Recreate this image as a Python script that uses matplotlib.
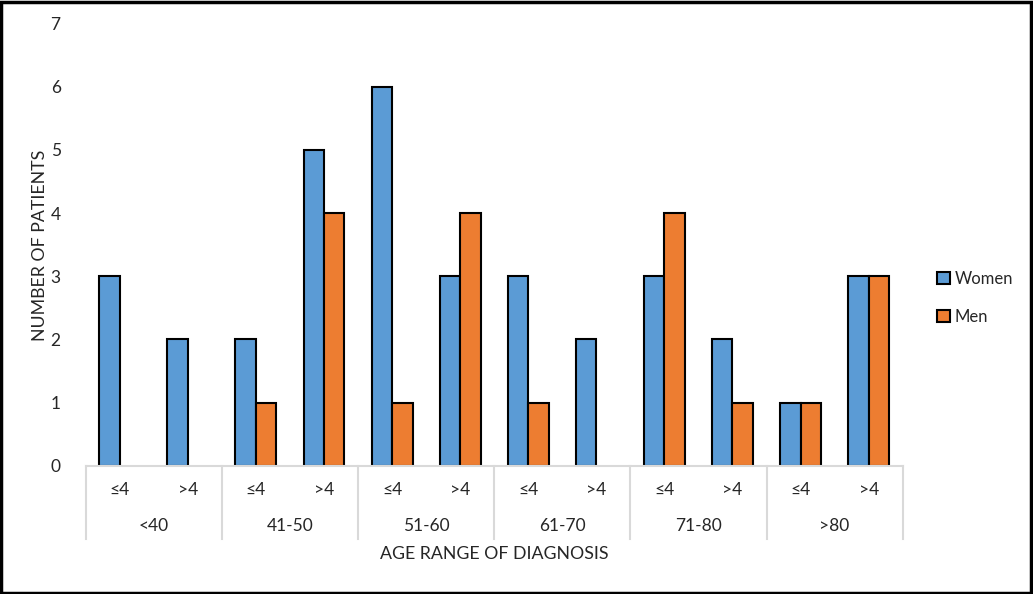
import matplotlib
matplotlib.use("Agg")
import matplotlib.pyplot as plt
from matplotlib.patches import Rectangle, Patch
import numpy as np

plt.rcParams['font.family'] = ['Lato', 'DejaVu Sans']

age_groups = ['<40', '41-50', '51-60', '61-70', '71-80', '>80']
sub_labels = ['≤4', '>4']
women = [3, 2, 2, 5, 6, 3, 3, 2, 3, 2, 1, 3]
men = [0, 0, 1, 4, 1, 4, 1, 0, 4, 1, 1, 3]

women_color = '#5B9BD5'
men_color = '#ED7D31'
text_color = '#262626'
line_color = '#D9D9D9'

fig = plt.figure(figsize=(10.33, 5.94), dpi=100)
ax = fig.add_axes([85.7 / 1033, (594 - 465.7) / 594, (902.7 - 85.7) / 1033, (465.7 - 23.5) / 594])

x = np.arange(len(women))
w = 0.30
bars_w = ax.bar(x - w / 2, women, w, color=women_color, edgecolor='black', linewidth=1.5, label='Women')
bars_m = ax.bar(x + w / 2, men, w, color=men_color, edgecolor='black', linewidth=1.5, label='Men')
# Excel draws nothing for zero-height bars
for b in list(bars_w) + list(bars_m):
    if b.get_height() == 0:
        b.set_linewidth(0)

ax.set_xlim(-0.5, len(women) - 0.5)
ax.set_ylim(0, 7)
ax.set_yticks(range(0, 8))
ax.tick_params(axis='y', length=0, pad=18, labelsize=12.5, labelcolor=text_color)
ax.set_xticks([])
for s in ['top', 'right', 'left']:
    ax.spines[s].set_visible(False)
ax.spines['bottom'].set_color(line_color)
ax.spines['bottom'].set_linewidth(1.5)

# multi-level category axis
trans = ax.get_xaxis_transform()
sep_bottom = -73.3 / 442.2
for k in range(len(age_groups) + 1):
    xs = -0.5 + 2 * k
    ax.plot([xs, xs], [0, sep_bottom], color=line_color, lw=1.5, transform=trans, clip_on=False)
for i in range(len(women)):
    ax.text(i, -24.5 / 442.2, sub_labels[i % 2], transform=trans, ha='center', va='center',
            fontsize=12.5, color=text_color)
for g, name in enumerate(age_groups):
    ax.text(2 * g + 0.5, -60.5 / 442.2, name, transform=trans, ha='center', va='center',
            fontsize=12.5, color=text_color)

fig.text(494 / 1033, 1 - 554 / 594, 'AGE RANGE OF DIAGNOSIS', ha='center', va='center',
         fontsize=12.8, color=text_color)
fig.text(40 / 1033, 1 - 245 / 594, 'NUMBER OF PATIENTS', ha='center', va='center',
         rotation=90, fontsize=12.8, color=text_color)

handles = [Patch(facecolor=women_color, edgecolor='black', linewidth=1.5),
           Patch(facecolor=men_color, edgecolor='black', linewidth=1.5)]
fig.legend(handles, ['Women', 'Men'], loc='center left', bbox_to_anchor=(922 / 1033, 1 - 298 / 594),
           frameon=False, fontsize=12, handlelength=0.75, handleheight=0.75, handletextpad=0.3,
           labelspacing=1.3, labelcolor=text_color)

fig.patches.append(Rectangle((0.001, 0.002), 0.997, 0.995, transform=fig.transFigure,
                             fill=False, edgecolor='black', linewidth=2.5))

fig.savefig('out.png', dpi=100)
